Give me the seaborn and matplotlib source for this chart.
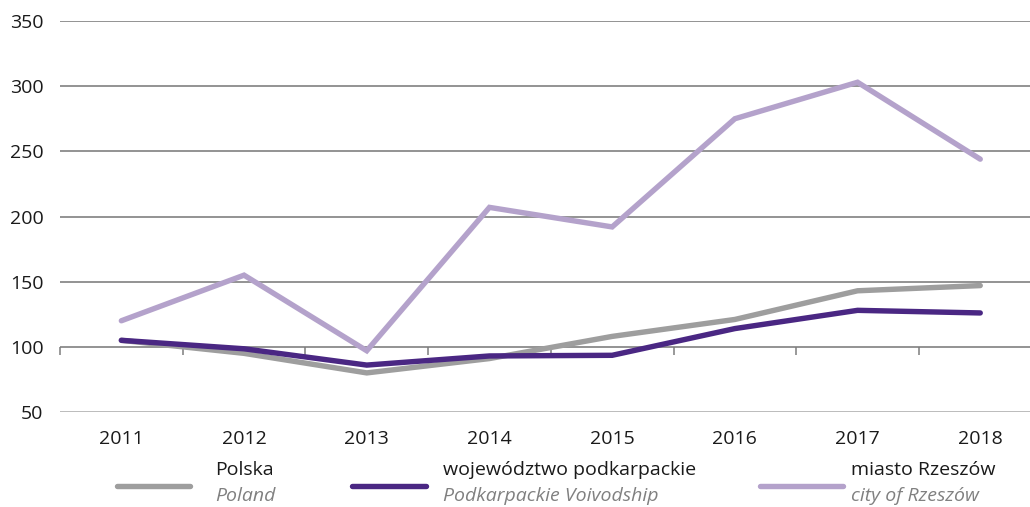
import numpy as np
import pandas as pd
import matplotlib
matplotlib.use("Agg")
import matplotlib.pyplot as plt
from matplotlib.lines import Line2D
import seaborn as sns

years = ["2011", "2012", "2013", "2014", "2015", "2016", "2017", "2018"]
polska = [105, 95, 80, 91, 108, 121, 143, 147]
podkarpackie = [105, 98.5, 86, 93, 93.5, 114, 128, 126]
rzeszow = [120, 155, 97, 207, 192, 275, 303, 244]

series_pl = ["Polska", "województwo podkarpackie", "miasto Rzeszów"]
series_en = ["Poland", "Podkarpackie Voivodship", "city of Rzeszów"]
colors = ["#9e9e9e", "#4a2783", "#b4a2cb"]

df = pd.DataFrame({
    "year": years * 3,
    "x": list(range(len(years))) * 3,
    "value": polska + podkarpackie + rzeszow,
    "series": [s for s in series_pl for _ in years],
})

sns.set_theme(style="white")
plt.rcParams["font.family"] = ["Open Sans", "DejaVu Sans"]

W, H = 1030, 507
fig = plt.figure(figsize=(W / 100, H / 100), dpi=100)
left, right_px = 60, 1041.6
bottom_px, top_px = 412, 21
ax = fig.add_axes([left / W, (H - bottom_px) / H,
                   (right_px - left) / W, (bottom_px - top_px) / H])

# horizontal grid
for v in range(50, 351, 50):
    ax.axhline(v, color="#aaaaaa" if v == 50 else "#757575", lw=1.1, zorder=0)

sns.lineplot(data=df, x="x", y="value", hue="series", hue_order=series_pl,
             palette=dict(zip(series_pl, colors)), linewidth=3.9, ax=ax,
             legend=False, solid_capstyle="round", solid_joinstyle="miter")

ax.set_xlim(-0.5, len(years) - 0.5)
ax.set_ylim(50, 350)
ax.set_yticks(range(50, 351, 50))
ax.set_xticks(range(len(years)))
ax.set_xticklabels(years)
ax.tick_params(axis="x", length=0, pad=13, labelsize=14, labelcolor="#1a1a1a")
ax.tick_params(axis="y", length=0, pad=12, labelsize=14, labelcolor="#1a1a1a")
ax.set_xlabel("")
ax.set_ylabel("")
for s in ax.spines.values():
    s.set_visible(False)

# category separators on the 100 line
sec = ax.secondary_xaxis((100 - 50) / 300)
sec.set_xticks(np.arange(-0.5, len(years), 1.0))
sec.set_xticklabels([])
sec.tick_params(axis="x", direction="out", length=6, width=1.1, color="#7d7d7d")
sec.spines["bottom"].set_visible(False)

# legend
legend_pos = [(117, 190, 215), (352, 426, 443), (760, 843, 851)]
for (x0, x1, xt), c, pl, en in zip(legend_pos, colors, series_pl, series_en):
    fig.add_artist(Line2D([x0 / W, x1 / W], [(H - 486) / H] * 2, color=c,
                          lw=3.9, solid_capstyle="round",
                          transform=fig.transFigure))
    fig.text(xt / W, (H - 470) / H, pl, fontsize=14, color="#1a1a1a",
             ha="left", va="center")
    fig.text(xt / W, (H - 496) / H, en, fontsize=14, color="#808080",
             style="italic", ha="left", va="center")

fig.savefig("out.png", dpi=100)
